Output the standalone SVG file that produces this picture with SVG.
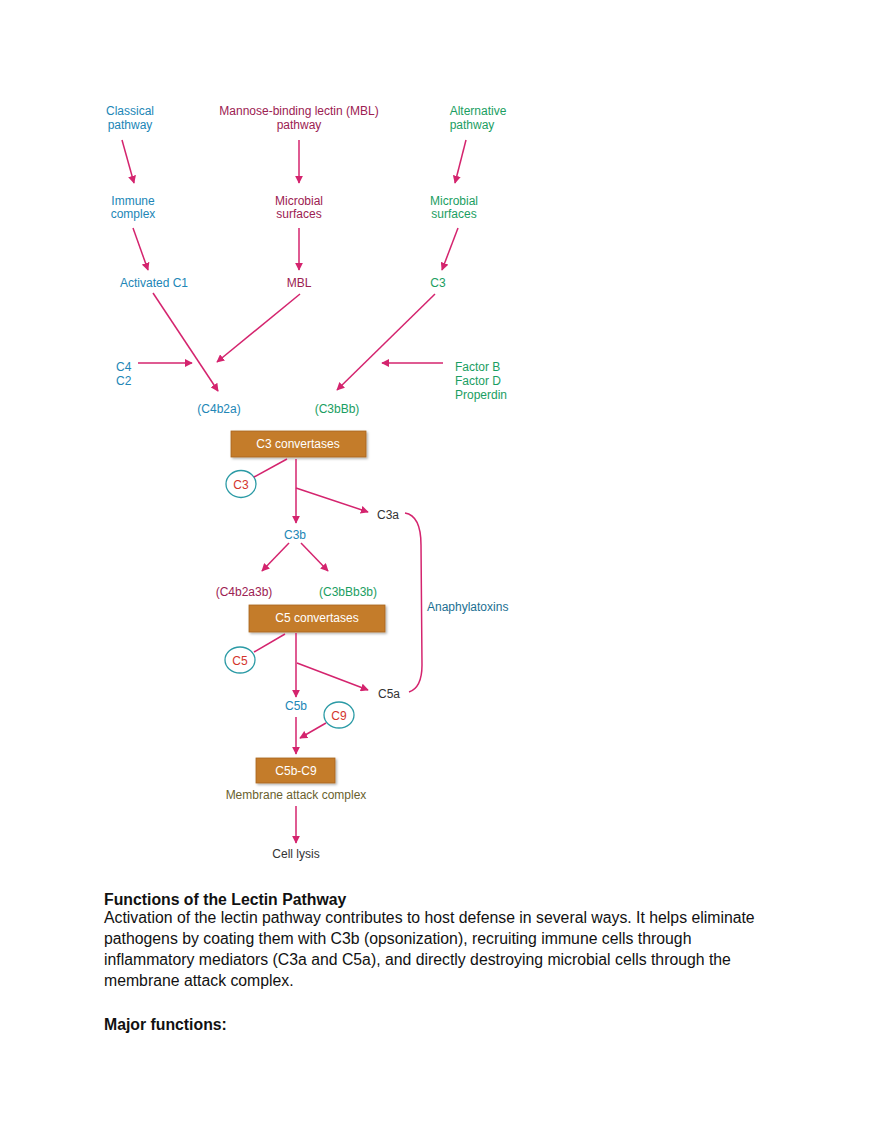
<svg xmlns="http://www.w3.org/2000/svg" width="880" height="1139" viewBox="0 0 880 1139">
<defs>
<marker id="ah" viewBox="0 0 10 10" refX="9" refY="5" markerWidth="8" markerHeight="8" markerUnits="userSpaceOnUse" orient="auto">
<path d="M0,0 L10,5 L0,10 z" fill="#d4246e"/>
</marker>
<filter id="sh" x="-10%" y="-20%" width="130%" height="150%">
<feDropShadow dx="1.5" dy="1.5" stdDeviation="1" flood-color="#000" flood-opacity="0.3"/>
</filter>
</defs>
<style>
text{font-family:"Liberation Sans",Arial,sans-serif;font-size:12px}
.c{text-anchor:middle}
.bl{fill:#2186b6}
.mr{fill:#9c2152}
.gr{fill:#1a9e62}
.dk{fill:#333}
.rd{fill:#d3342c}
.wt{fill:#fff}
.ol{fill:#6a5f2e}
.tl{fill:#1b6f92}
.box{fill:#c47b2c;stroke:#a9651f;stroke-width:0.8}
.circ{fill:#fff;stroke:#2a9aa5;stroke-width:1.3}
.ln{stroke:#d4246e;stroke-width:1.5;fill:none}
.ar{stroke:#d4246e;stroke-width:1.5;fill:none;marker-end:url(#ah)}
.body{font-size:15.8px;fill:#111}
.hd{font-size:15.8px;font-weight:bold;fill:#111}
</style>
<rect width="880" height="1139" fill="#fff"/>

<g id="classical"><text class="c bl" x="130" y="115">Classical</text><text class="c bl" x="130" y="129">pathway</text></g>
<g id="mbl-pathway"><text class="c mr" x="299" y="115">Mannose-binding lectin (MBL)</text><text class="c mr" x="299" y="129">pathway</text></g>
<g id="alternative"><text class="c gr" x="478" y="115">Alternative</text><text class="c gr" x="472" y="129">pathway</text></g>

<g id="immune-complex"><text class="c bl" x="133" y="205">Immune</text><text class="c bl" x="133" y="218">complex</text></g>
<g id="microbial-mbl"><text class="c mr" x="299" y="205">Microbial</text><text class="c mr" x="299" y="218">surfaces</text></g>
<g id="microbial-alt"><text class="c gr" x="454" y="205">Microbial</text><text class="c gr" x="454" y="218">surfaces</text></g>

<g id="activated-c1"><text class="c bl" x="154" y="287">Activated C1</text></g>
<g id="mbl"><text class="c mr" x="299" y="287">MBL</text></g>
<g id="c3-alt"><text class="c gr" x="438" y="287">C3</text></g>

<g id="c4c2"><text class="bl" x="116" y="371">C4</text><text class="bl" x="116" y="385">C2</text></g>
<g id="factors"><text class="gr" x="455" y="371">Factor B</text><text class="gr" x="455" y="385">Factor D</text><text class="gr" x="455" y="399">Properdin</text></g>

<g id="c4b2a"><text class="c bl" x="219" y="413">(C4b2a)</text></g>
<g id="c3bbb"><text class="c gr" x="337" y="413">(C3bBb)</text></g>

<g id="c3-convertases"><rect class="box" filter="url(#sh)" x="231" y="431" width="135" height="26"/><text class="c wt" x="298" y="448">C3 convertases</text></g>
<g id="c3-circle"><ellipse class="circ" cx="241" cy="484" rx="15" ry="13.5"/><text class="c rd" x="241" y="488.5">C3</text></g>
<g id="c3a"><text class="dk" x="377" y="519">C3a</text></g>
<g id="c3b"><text class="c bl" x="295" y="539">C3b</text></g>
<g id="c4b2a3b"><text class="c mr" x="244" y="596">(C4b2a3b)</text></g>
<g id="c3bbb3b"><text class="c gr" x="348" y="596">(C3bBb3b)</text></g>
<g id="anaphylatoxins"><text class="tl" x="427" y="611">Anaphylatoxins</text></g>

<g id="c5-convertases"><rect class="box" filter="url(#sh)" x="249" y="605" width="136" height="27"/><text class="c wt" x="317" y="622">C5 convertases</text></g>
<g id="c5-circle"><ellipse class="circ" cx="240" cy="660" rx="15" ry="13"/><text class="c rd" x="240" y="664.5">C5</text></g>
<g id="c5a"><text class="dk" x="378" y="698">C5a</text></g>
<g id="c5b"><text class="c bl" x="296" y="710">C5b</text></g>
<g id="c9-circle"><ellipse class="circ" cx="339" cy="715" rx="15" ry="13"/><text class="c rd" x="339" y="719.5">C9</text></g>
<g id="c5b-c9"><rect class="box" filter="url(#sh)" x="256" y="758" width="79" height="25"/><text class="c wt" x="296" y="775">C5b-C9</text></g>
<g id="mac"><text class="c ol" x="296" y="799">Membrane attack complex</text></g>
<g id="cell-lysis"><text class="c dk" x="296" y="858">Cell lysis</text></g>

<g id="connectors">
<line class="ar" x1="122" y1="140" x2="134" y2="183"/>
<line class="ar" x1="299" y1="140" x2="299" y2="183"/>
<line class="ar" x1="466" y1="140" x2="455" y2="183"/>
<line class="ar" x1="133" y1="228" x2="148" y2="270"/>
<line class="ar" x1="299" y1="228" x2="299" y2="270"/>
<line class="ar" x1="458" y1="228" x2="442" y2="270"/>
<line class="ar" x1="153" y1="293" x2="218" y2="391"/>
<line class="ar" x1="300" y1="294" x2="217" y2="362"/>
<line class="ar" x1="435" y1="294" x2="337" y2="390"/>
<line class="ar" x1="138" y1="363" x2="192" y2="363"/>
<line class="ar" x1="443" y1="363" x2="382" y2="363"/>
<line class="ln" x1="254" y1="477" x2="287" y2="459"/>
<line class="ar" x1="296" y1="459" x2="296" y2="523"/>
<line class="ar" x1="296" y1="488" x2="368" y2="512"/>
<line class="ar" x1="289" y1="543" x2="262" y2="571"/>
<line class="ar" x1="301" y1="543" x2="328" y2="571"/>
<path class="ln" d="M405,513 C417,515 421,527 421,545 L422,665 C422,680 418,689 409,692"/>
<line class="ln" x1="254" y1="652" x2="285" y2="634"/>
<line class="ar" x1="296" y1="633" x2="296" y2="697"/>
<line class="ar" x1="297" y1="663" x2="368" y2="690"/>
<line class="ar" x1="326" y1="723" x2="300" y2="738"/>
<line class="ar" x1="296" y1="717" x2="296" y2="754"/>
<line class="ar" x1="296" y1="806" x2="296" y2="843"/>
</g>

<g id="text-block">
<text class="hd" x="104" y="905">Functions of the Lectin Pathway</text>
<text class="body" x="104" y="923">Activation of the lectin pathway contributes to host defense in several ways. It helps eliminate</text>
<text class="body" x="104" y="944">pathogens by coating them with C3b (opsonization), recruiting immune cells through</text>
<text class="body" x="104" y="965">inflammatory mediators (C3a and C5a), and directly destroying microbial cells through the</text>
<text class="body" x="104" y="986">membrane attack complex.</text>
<text class="hd" x="104" y="1030">Major functions:</text>
</g>
</svg>
